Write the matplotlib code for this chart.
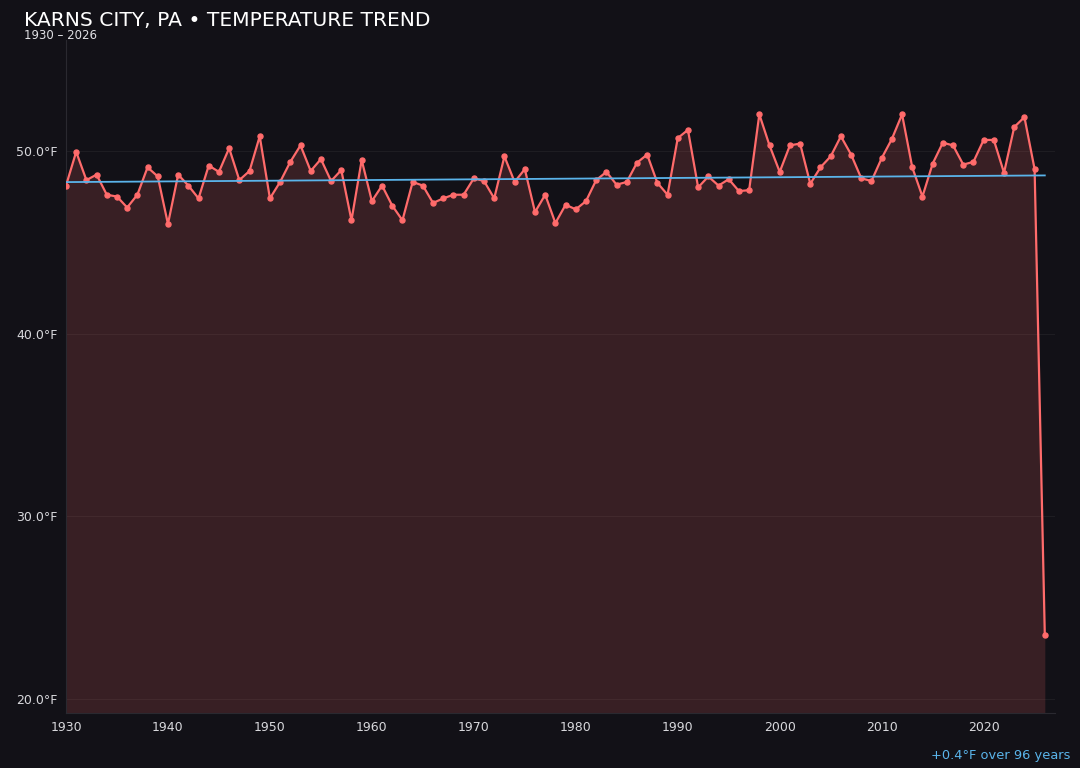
import numpy as np
import matplotlib
matplotlib.use("Agg")
import matplotlib.pyplot as plt

# dane
lata = list(range(1930, 2027))
temperatury = [
    48.1, 49.95, 48.4, 48.7, 47.6, 47.5, 46.9, 47.6, 49.1, 48.6,
    46.0, 48.7, 48.1, 47.4, 49.2, 48.85, 50.15, 48.4, 48.9, 50.8,
    47.4, 48.3, 49.4, 50.3, 48.9, 49.55, 48.35, 48.95, 46.2, 49.5,
    47.25, 48.1, 47.0, 46.2, 48.3, 48.1, 47.15, 47.4, 47.6, 47.6,
    48.5, 48.35, 47.4, 49.7, 48.3, 49.0, 46.65, 47.6, 46.05, 47.05,
    46.8, 47.25, 48.4, 48.85, 48.15, 48.3, 49.35, 49.8, 48.25, 47.6,
    50.7, 51.15, 48.0, 48.6, 48.1, 48.45, 47.8, 47.85, 52.0, 50.3,
    48.85, 50.3, 50.4, 48.2, 49.1, 49.7, 50.8, 49.8, 48.5, 48.35,
    49.6, 50.65, 52.0, 49.1, 47.5, 49.3, 50.45, 50.3, 49.25, 49.4,
    50.6, 50.6, 48.8, 51.3, 51.85, 49.0, 23.5,
]
y_ticki = [20, 30, 40, 50]
x_ticki = list(range(1930, 2030, 10))

# kolory
tlo = "#121117"
czerwony = "#ff6b6b"
niebieski = "#5ab4ea"

fig = plt.figure(figsize=(10.8, 7.68), dpi=100, facecolor=tlo)
ax = fig.add_axes([66 / 1080, 1 - 713 / 768, (1055 - 66) / 1080, (713 - 40) / 768])
ax.set_facecolor(tlo)

x = np.array(lata)
y = np.array(temperatury)
dol = 19.23

# wypelnienie i linia
ax.fill_between(x, y, dol, color=czerwony, alpha=0.16, linewidth=0)
ax.plot(x, y, color=czerwony, linewidth=1.6, marker="o", markersize=3.6, zorder=3)

# trend
a, b = np.polyfit(x, y, 1)
ax.plot(x, a * x + b, color=niebieski, linewidth=1.3, zorder=4)
zmiana = a * (x[-1] - x[0])

ax.set_xlim(1930, 2027)
ax.set_ylim(dol, 56.07)
ax.set_xticks(x_ticki)
ax.set_yticks(y_ticki)
ax.set_yticklabels([f"{t:.1f}°F" for t in y_ticki])
ax.tick_params(colors="#d8d8dc", labelsize=9, length=0, pad=6)
ax.grid(axis="y", color="#ffffff", alpha=0.05, linewidth=0.8)
ax.set_axisbelow(True)

for s in ["top", "right"]:
    ax.spines[s].set_visible(False)
ax.spines["left"].set_color("#2a2930")
ax.spines["bottom"].set_color("#2a2930")

# teksty
fig.text(24 / 1080, 1 - 20 / 768, "KARNS CITY, PA • TEMPERATURE TREND",
         color="white", fontsize=14.6, va="center", ha="left")
fig.text(24 / 1080, 1 - 35.5 / 768, "1930 – 2026",
         color="#e0e0e4", fontsize=8.5, va="center", ha="left")
fig.text(1070 / 1080, 1 - 755 / 768, f"{zmiana:+.1f}°F over {x[-1] - x[0]} years",
         color=niebieski, fontsize=9.4, va="center", ha="right")

fig.savefig("out.png", dpi=100, facecolor=tlo)
